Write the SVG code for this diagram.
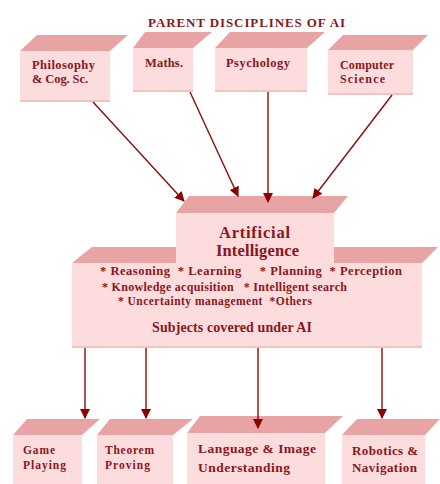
<svg xmlns="http://www.w3.org/2000/svg" width="440" height="484" viewBox="0 0 440 484">
<defs>
<style>
.front{fill:#fcdcdd;}
.top{fill:#e8a3a4;}
.base{fill:#f3c3c4;}
.t{font-family:"Liberation Serif","Times New Roman",serif;font-weight:bold;fill:#8a1620;}
.c{stroke:#8b0b0b;stroke-width:1.4;fill:none;marker-end:url(#ah);}
</style>
<marker id="ah" viewBox="0 0 10 10" refX="9" refY="5" markerWidth="10" markerHeight="10" markerUnits="userSpaceOnUse" orient="auto">
<path d="M0,0 L10,5 L0,10 z" fill="#8b0000"/>
</marker>
</defs>
<rect width="440" height="484" fill="#ffffff"/>
<text class="t" x="148" y="27" font-size="13" textLength="197" lengthAdjust="spacing">PARENT DISCIPLINES OF AI</text>

<g id="philosophy">
<polygon class="top" points="20,51 37,35 128,35 110,51"/>
<rect class="front" x="20" y="51" width="90" height="51"/>
<rect class="base" x="20" y="100" width="90" height="2"/>
<text class="t" x="32" y="69" font-size="12.5" textLength="63" lengthAdjust="spacing">Philosophy</text>
<text class="t" x="32" y="83" font-size="12.5" textLength="56" lengthAdjust="spacing">&amp; Cog. Sc.</text>
</g>
<g id="maths">
<polygon class="top" points="133,48 145,32 212,32 193,48"/>
<rect class="front" x="133" y="48" width="60" height="44"/>
<rect class="base" x="133" y="90" width="60" height="2"/>
<text class="t" x="145" y="67" font-size="12.5" textLength="38" lengthAdjust="spacing">Maths.</text>
</g>
<g id="psychology">
<polygon class="top" points="215,48 230,32 325,32 307,48"/>
<rect class="front" x="215" y="48" width="92" height="44"/>
<rect class="base" x="215" y="90" width="92" height="2"/>
<text class="t" x="226" y="67" font-size="12.5" textLength="64" lengthAdjust="spacing">Psychology</text>
</g>
<g id="computer">
<polygon class="top" points="328,50 343,35 428,35 413,50"/>
<rect class="front" x="328" y="50" width="85" height="45"/>
<rect class="base" x="328" y="93" width="85" height="2"/>
<text class="t" x="340" y="69" font-size="12" textLength="54" lengthAdjust="spacing">Computer</text>
<text class="t" x="340" y="83" font-size="12" textLength="45" lengthAdjust="spacing">Science</text>
</g>

<g id="subjects">
<polygon class="top" points="72,263 92,247 438,247 422,263"/>
<rect class="front" x="72" y="263" width="350" height="85"/>
<rect class="base" x="72" y="346" width="350" height="2"/>
</g>
<g id="ai">
<polygon class="top" points="176,213 189,196 348,196 334,213"/>
<rect class="front" x="176" y="213" width="158" height="52"/>
<text class="t" x="219" y="238" font-size="16.5" textLength="71" lengthAdjust="spacing">Artificial</text>
<text class="t" x="216" y="256" font-size="16.5" textLength="83" lengthAdjust="spacing">Intelligence</text>
</g>
<g id="subjects-text">
<text class="t" x="100" y="275" font-size="12.5" textLength="302" lengthAdjust="spacing" xml:space="preserve">* Reasoning  * Learning     * Planning  * Perception</text>
<text class="t" x="102" y="291" font-size="12" textLength="245" lengthAdjust="spacing" xml:space="preserve">* Knowledge acquisition   * Intelligent search</text>
<text class="t" x="118" y="305" font-size="11.5" textLength="194" lengthAdjust="spacing" xml:space="preserve">* Uncertainty management  *Others</text>
<text class="t" x="152" y="332" font-size="14" textLength="160" lengthAdjust="spacing">Subjects covered under AI</text>
</g>

<g id="game">
<polygon class="top" points="13,435 27,419 100,419 82,435"/>
<rect class="front" x="13" y="435" width="69" height="49"/>
<text class="t" x="23" y="454" font-size="11.5" textLength="32" lengthAdjust="spacing">Game</text>
<text class="t" x="23" y="469" font-size="11.5" textLength="43" lengthAdjust="spacing">Playing</text>
</g>
<g id="theorem">
<polygon class="top" points="97,435 110,419 193,419 173,435"/>
<rect class="front" x="97" y="435" width="76" height="49"/>
<text class="t" x="105" y="454" font-size="11.5" textLength="49" lengthAdjust="spacing">Theorem</text>
<text class="t" x="105" y="469" font-size="11.5" textLength="45" lengthAdjust="spacing">Proving</text>
</g>
<g id="language">
<polygon class="top" points="187,433 200,416 343,416 325,433"/>
<rect class="front" x="187" y="433" width="138" height="51"/>
<text class="t" x="198" y="453" font-size="13.5" textLength="118" lengthAdjust="spacing">Language &amp; Image</text>
<text class="t" x="198" y="472" font-size="13.5" textLength="92" lengthAdjust="spacing">Understanding</text>
</g>
<g id="robotics">
<polygon class="top" points="342,435 357,419 440,419 425,435"/>
<rect class="front" x="342" y="435" width="83" height="49"/>
<text class="t" x="352" y="455" font-size="13" textLength="66" lengthAdjust="spacing">Robotics &amp;</text>
<text class="t" x="352" y="472" font-size="13" textLength="65" lengthAdjust="spacing">Navigation</text>
</g>

<g id="connectors">
<line class="c" x1="93" y1="102" x2="184" y2="201"/>
<line class="c" x1="190" y1="92" x2="238" y2="196"/>
<line class="c" x1="268" y1="92" x2="268" y2="202"/>
<line class="c" x1="392" y1="95" x2="313" y2="198"/>
<line class="c" x1="85" y1="348" x2="85" y2="418"/>
<line class="c" x1="146" y1="348" x2="146" y2="418"/>
<line class="c" x1="258" y1="348" x2="258" y2="428"/>
<line class="c" x1="382" y1="348" x2="382" y2="418"/>
</g>
</svg>
